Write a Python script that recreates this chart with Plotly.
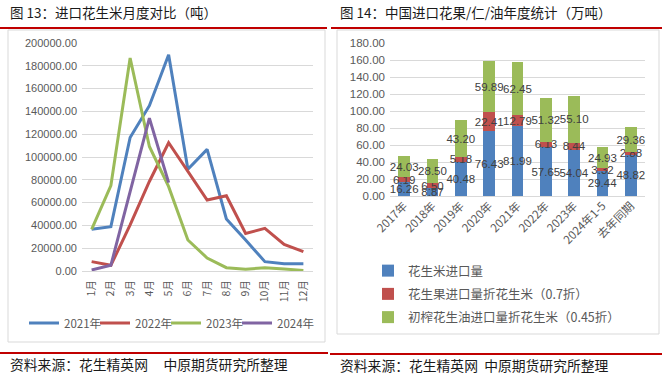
import plotly.graph_objects as go

W, H = 662, 376

# ---------------- data: left chart ----------------
months = ["1月", "2月", "3月", "4月", "5月", "6月", "7月", "8月", "9月", "10月", "11月", "12月"]
y2021 = [36600, 38900, 117100, 145000, 189700, 89200, 106700, 45600, 27200, 8200, 6400, 6400]
y2022 = [8200, 5000, 40400, 78500, 112500, 87300, 62300, 66000, 33000, 37400, 23400, 17000]
y2023 = [36600, 75000, 186800, 109200, 74000, 27200, 11400, 2900, 1500, 2900, 1800, 500]
y2024 = [900, 5000, 69700, 134100, 77500]
line_names = ["2021年", "2022年", "2023年", "2024年"]

# ---------------- data: right chart ----------------
years = ["2017年", "2018年", "2019年", "2020年", "2021年", "2022年", "2023年", "2024年1-5", "去年同期"]
kernel = [16.26, 8.87, 40.48, 76.43, 81.99, 57.65, 54.04, 29.44, 48.82]
shell = [6.19, 6.50, 5.18, 22.41, 12.79, 6.13, 8.44, 3.32, 2.88]
oil = [24.03, 28.50, 43.20, 59.89, 62.45, 51.32, 55.10, 24.93, 29.36]
bar_names = ["花生米进口量", "花生果进口量折花生米（0.7折）", "初榨花生油进口量折花生米（0.45折）"]

BLUE, RED, GREEN, PURPLE = "#4F81BD", "#C0504D", "#9BBB59", "#8064A2"
GRAY_TXT = "#595959"
GRID = "#D9D9D9"
CJK = "Noto Sans CJK SC"
SANS = "Liberation Sans, Arial, sans-serif"


def px(x):
    return x / W


def py(y):
    return 1 - y / H


fig = go.Figure()

for name, vals, col in zip(line_names, [y2021, y2022, y2023, y2024], [BLUE, RED, GREEN, PURPLE]):
    fig.add_trace(go.Scatter(
        x=months[:len(vals)], y=vals, mode="lines", name=name,
        line=dict(color=col, width=3), xaxis="x", yaxis="y", legend="legend",
    ))
# blank spacer entry so the last legend label is not clipped
fig.add_trace(go.Scatter(x=[months[0]], y=[None], mode="lines", name=" ",
                         line=dict(color="rgba(0,0,0,0)", width=0),
                         xaxis="x", yaxis="y", legend="legend", hoverinfo="skip"))

for i, (name, vals, col) in enumerate(zip(bar_names, [kernel, shell, oil], [BLUE, RED, GREEN])):
    fig.add_trace(go.Bar(
        x=years, y=vals, name=name, marker=dict(color=col, line=dict(width=0)),
        text=[f"{v:.2f}" for v in vals], textposition="inside", insidetextanchor="middle",
        textangle=0, constraintext="none", cliponaxis=False,
        textfont=dict(color="#404040", size=11.5, family=SANS),
        xaxis="x2", yaxis="y2", legend="legend2", legendgroup=f"g{i}",
    ))

tickfont = dict(color=GRAY_TXT, size=11, family=SANS)

fig.update_layout(
    width=W, height=H,
    margin=dict(l=0, r=0, t=0, b=0, autoexpand=False),
    paper_bgcolor="white", plot_bgcolor="white",
    barmode="stack", bargap=0.58,
    showlegend=True,
    xaxis=dict(domain=[px(82), px(313)], type="category", range=[-0.5, 11.5], tickangle=-90,
               tickfont=dict(color=GRAY_TXT, size=10.5, family=CJK), showgrid=False,
               showline=False, ticks="", anchor="y", ticklabelstandoff=6),
    yaxis=dict(domain=[py(271), py(43)], range=[0, 200000], dtick=20000, tickformat=".2f",
               tickfont=tickfont, gridcolor=GRID, gridwidth=1, zeroline=True,
               zerolinecolor=GRID, zerolinewidth=1, showline=False, anchor="x",
               ticklabelstandoff=4),
    xaxis2=dict(domain=[px(390), px(645)], type="category", tickangle=-45,
                tickfont=dict(color=GRAY_TXT, size=11.5, family=CJK), showgrid=False,
                showline=False, ticks="", anchor="y2"),
    yaxis2=dict(domain=[py(196), py(43)], range=[0, 180], dtick=20, tickformat=".2f",
                tickfont=dict(color=GRAY_TXT, size=11.5, family=SANS), gridcolor=GRID,
                gridwidth=1, zeroline=True, zerolinecolor=GRID, zerolinewidth=1,
                showline=False, anchor="x2", ticklabelstandoff=4),
    legend=dict(orientation="h", x=px(24), y=py(323), xanchor="left", yanchor="middle",
                font=dict(color=GRAY_TXT, size=11.5, family=CJK), bgcolor="rgba(0,0,0,0)",
                entrywidth=26, entrywidthmode="pixels", itemwidth=30),
    legend2=dict(orientation="v", x=px(368), y=py(256), xanchor="left", yanchor="top",
                 traceorder="reversed+grouped", font=dict(color=GRAY_TXT, size=12.5, family=CJK),
                 bgcolor="rgba(0,0,0,0)", itemwidth=30, tracegroupgap=4),
)

shapes = [
    # red separator lines
    dict(type="line", x0=px(0), x1=px(327), y0=py(28), y1=py(28), line=dict(color="#C00000", width=2)),
    dict(type="line", x0=px(331), x1=px(662), y0=py(28), y1=py(28), line=dict(color="#C00000", width=2)),
    dict(type="line", x0=px(0), x1=px(328), y0=py(353), y1=py(353), line=dict(color="#C00000", width=2)),
    dict(type="line", x0=px(330), x1=px(662), y0=py(354), y1=py(354), line=dict(color="#C00000", width=2)),
    # chart frames
    dict(type="rect", x0=px(8), x1=px(325), y0=py(342), y1=py(30), line=dict(color=GRID, width=1)),
    dict(type="rect", x0=px(337), x1=px(659), y0=py(334), y1=py(30), line=dict(color=GRID, width=1)),
]
for s in shapes:
    s.update(xref="paper", yref="paper", layer="below")
fig.update_layout(shapes=shapes)

title_font = dict(color="#1a1a1a", size=13.5, family=CJK)
src_font = dict(color="#1a1a1a", size=13.8, family=CJK)
ann = [
    dict(text="图 13：进口花生米月度对比（吨）", x=px(8), y=py(12), font=title_font),
    dict(text="图 14：中国进口花果/仁/油年度统计（万吨）", x=px(338), y=py(12), font=title_font),
    dict(text="资料来源：花生精英网&nbsp;&nbsp;&nbsp;&nbsp;&nbsp;中原期货研究所整理", x=px(8), y=py(364), font=src_font),
    dict(text="资料来源：花生精英网&nbsp;&nbsp;中原期货研究所整理", x=px(338), y=py(365), font=src_font),
]
for a in ann:
    a.update(xref="paper", yref="paper", xanchor="left", yanchor="middle", showarrow=False)
fig.update_layout(annotations=ann)

fig.write_html("out.html", config={"displayModeBar": False},
               post_script="document.body.style.margin='0';")
